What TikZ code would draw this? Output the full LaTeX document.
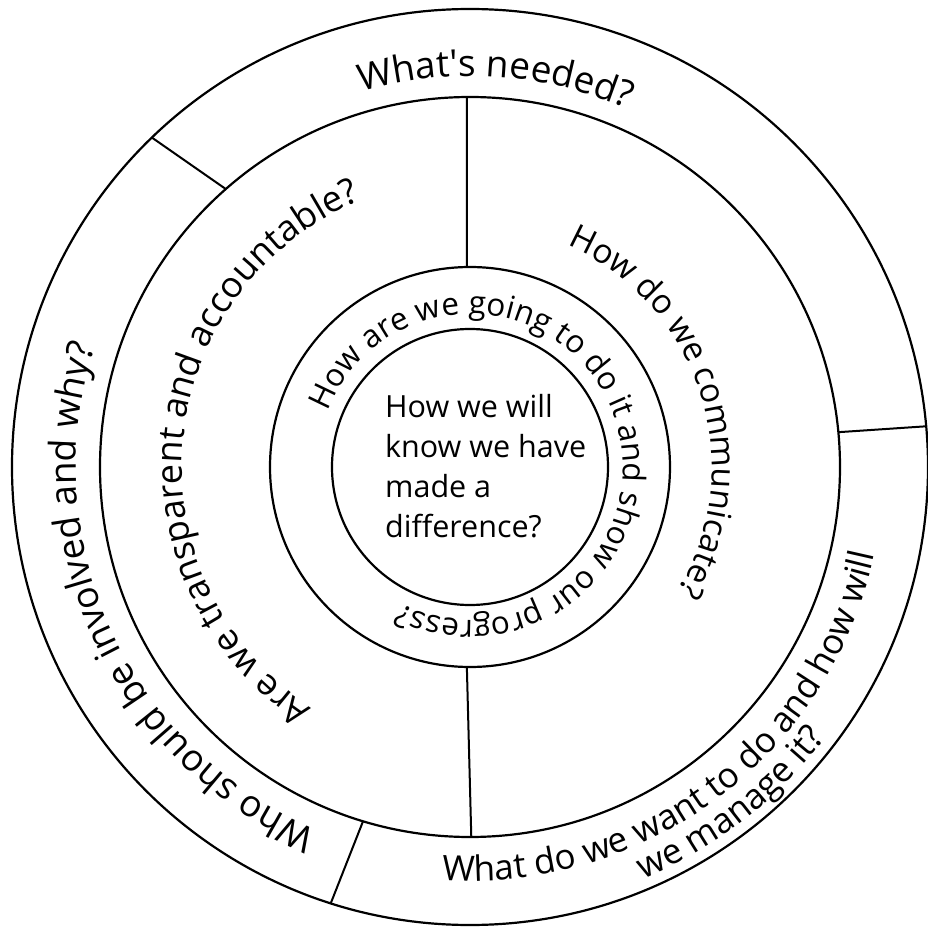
\documentclass[tikz,border=0pt]{standalone}
\usepackage{fontspec}
\newfontfamily\wheelfont{Open Sans}
\usetikzlibrary{decorations.text}

\tikzset{
  ring/.style={draw=black, line width=2.2pt},
  divider/.style={draw=black, line width=2pt},
  ring text/.style 2 args={decorate, decoration={text along path, text align=center,
      text={|\wheelfont\fontsize{#1}{#1}\selectfont|#2}}},
}

\begin{document}
\begin{tikzpicture}[x=1pt, y=1pt]
      \useasboundingbox (-470,-465) rectangle (458,467);

      % circles
      \draw[ring] (0,0) circle (458);
      \draw[ring] (0,0) circle (370);
      \draw[ring] (0,0) circle (200);
      \draw[ring] (0,0) circle (138);

      % dividers
      \draw[divider] (134:458) -- (131.3:370);
      \draw[divider] (90.5:370) -- (90.9:200);
      \draw[divider] (5.1:458) -- (5.4:370);
      \draw[divider] (269.1:200) -- (270.2:370);
      \draw[divider] (252.3:458) -- (253.2:370);

      %%%%%%%%%%%%%%%%%%%%%%%%%%%%%%%%%%%%%%%%%%%%%%%%%%%%%%%%%%%%%%
      % Outer ring
      %%%%%%%%%%%%%%%%%%%%%%%%%%%%%%%%%%%%%%%%%%%%%%%%%%%%%%%%%%%%%%
      \path[ring text={37}{What's needed?}]
        (146.2:391) arc[start angle=146.2, end angle=26.2, radius=391];
      \path[ring text={37}{Who should be involved and why?}]
        (284.6:394) arc[start angle=284.6, end angle=124.6, radius=394];
      \path[ring text={35}{What do we want to do and how will}]
        (237:414) arc[start angle=237, end angle=377, radius=414];
      \path[ring text={35}{we manage it?}]
        (257.8:447) arc[start angle=257.8, end angle=357.8, radius=447];

      %%%%%%%%%%%%%%%%%%%%%%%%%%%%%%%%%%%%%%%%%%%%%%%%%%%%%%%%%%%%%%
      % Middle ring
      %%%%%%%%%%%%%%%%%%%%%%%%%%%%%%%%%%%%%%%%%%%%%%%%%%%%%%%%%%%%%%
      \path[ring text={36}{Are we transparent and accountable?}]
        (264.5:288) arc[start angle=264.5, end angle=84.5, radius=288];
      \path[ring text={33.5}{How do we communicate?}]
        (107.8:242) arc[start angle=107.8, end angle=-72.2, radius=242];

      %%%%%%%%%%%%%%%%%%%%%%%%%%%%%%%%%%%%%%%%%%%%%%%%%%%%%%%%%%%%%%
      % Inner ring and centre
      %%%%%%%%%%%%%%%%%%%%%%%%%%%%%%%%%%%%%%%%%%%%%%%%%%%%%%%%%%%%%%
      \path[ring text={31.5}{How are we going to do it and show our progress?}]
        (199:153) arc[start angle=199, end angle=-157, radius=153];

      \node[font=\wheelfont\fontsize{30.5}{40}\selectfont, align=left, anchor=west,
        inner sep=0pt] (core) at (-85,1)
        {How we will\\know we have\\made a\\difference?};
\end{tikzpicture}
\end{document}
